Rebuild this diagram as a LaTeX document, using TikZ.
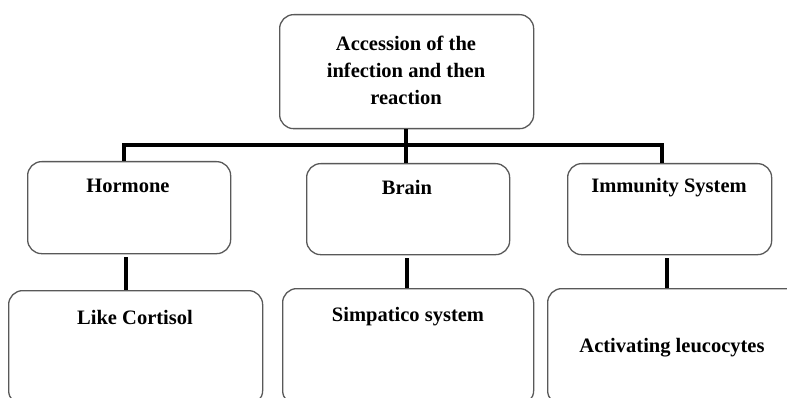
\documentclass[tikz,border=0pt]{standalone}
\usepackage{fontspec}
\setmainfont{Liberation Serif}
\begin{document}
\begin{tikzpicture}[x=1pt,y=-1pt,
  box/.style={draw=black!65, line width=1.3pt, rounded corners=14pt, fill=white, inner sep=0pt, anchor=north west},
  lbl/.style={font=\bfseries\fontsize{20.5}{27}\selectfont, align=center, inner sep=0pt},
  conn/.style={line width=4pt, black}]
\useasboundingbox (0,0) rectangle (787,398);
\clip (0,0) rectangle (787,398);
% boxes
\node[box, minimum width=254pt, minimum height=114pt] (top) at (279,14) {};
\node[box, minimum width=203pt, minimum height=92pt] (hormone) at (27,161) {};
\node[box, minimum width=203pt, minimum height=91pt] (brain) at (306,163) {};
\node[box, minimum width=204pt, minimum height=91pt] (immun) at (567,163) {};
\node[box, minimum width=254pt, minimum height=114pt] (cort) at (8,290) {};
\node[box, minimum width=251pt, minimum height=116pt] (simp) at (282,288) {};
\node[box, minimum width=262pt, minimum height=116pt] (act) at (547,288) {};
% labels
\node[lbl] (ttop) at (406,70) {Accession of the\\infection and then\\reaction};
\node[lbl] (thormone) at (128,186) {Hormone};
\node[lbl] (tbrain) at (407,187) {Brain};
\node[lbl] (timmun) at (669,188) {Immunity System};
\node[lbl] (tcort) at (135,317) {Like Cortisol};
\node[lbl] (tsimp) at (408,317) {Simpatico system};
\node[lbl] (tact) at (672,348) {Activating leucocytes};
% connectors
\coordinate (bl) at (124,145);
\coordinate (br) at (662,145);
\coordinate (bm) at (406,145);
\draw[conn] (bm |- top.south) -- (bm);
\draw[conn, line join=miter] (bl |- hormone.north) -- (bl) -- (br) -- (br |- immun.north);
\draw[conn] (bm) -- (bm |- brain.north);
\draw[conn, shorten <=3pt] (126,0 |- hormone.south) -- (126,0 |- cort.north);
\draw[conn, shorten <=3pt] (407,0 |- brain.south) -- (407,0 |- simp.north);
\draw[conn, shorten <=3pt] (667,0 |- immun.south) -- (667,0 |- act.north);
\end{tikzpicture}
\end{document}
